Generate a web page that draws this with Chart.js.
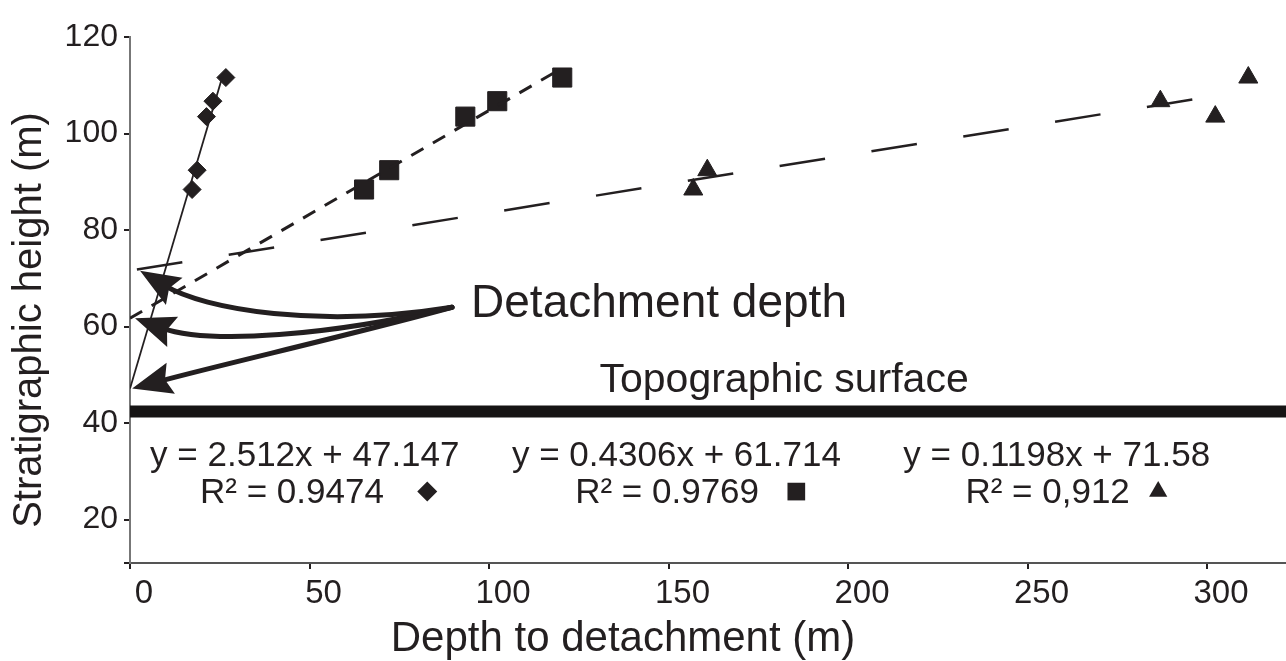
<!DOCTYPE html>
<html>
<head>
<meta charset="utf-8">
<title>Detachment depth</title>
<script src="https://cdn.jsdelivr.net/npm/chart.js@4.4.0/dist/chart.umd.min.js"></script>
<style>
  body { margin: 0; background: #fff; }
  canvas { display: block; }
</style>
</head>
<body>
<canvas id="chart" width="1286" height="661"></canvas>
<script>
// ---- data ----
const xTicks = [0, 50, 100, 150, 200, 250, 300];
const yTicks = [20, 40, 60, 80, 100, 120];
const heights = [88.4, 92.4, 103.5, 106.7, 111.6];          // same beds for all three series
const depthDiamond = [17.3, 18.7, 21.3, 23.1, 26.7];
const depthSquare = [65.2, 72.2, 93.4, 102.3, 120.4];
const depthTriangle = [156.9, 160.8, 302.3, 287.0, 311.5];
const slopes = [2.512, 0.4306, 0.1198];
const intercepts = [47.147, 61.714, 71.58];
const fitEnd = [26, 118, 302];                                // where each trend line stops
const eqLabels = ['y = 2.512x + 47.147', 'y = 0.4306x + 61.714', 'y = 0.1198x + 71.58'];
const r2Labels = ['R\u00B2 = 0.9474', 'R\u00B2 = 0.9769', 'R\u00B2 = 0,912'];
const topoSurface = 42.4;

const ink = '#231f20';
const family = '"Liberation Sans", Arial, sans-serif';
const markers = ['rectRot', 'rect', 'triangle'];

// placement of the annotations, in axis units
// arrows are in the same order as the intercepts (diamond, square, triangle fit)
const notePos = {
  eqX: [5.6, 106.4, 215.4], eqY: 31.2,
  r2X: [19.5, 124.0, 232.7], r2Y: 23.5,
  markX: [82.8, 185.6, 286.4], markY: 25.8,
  topo: [182.2, 46.35],
  detach: [95.0, 61.9],
  tail: [89.7, 64.0],
  arrows: [
    {c1: [61.3, 58.2], c2: [27.9, 52.6], tipX: 0.6},
    {c1: [55.7, 58.2], c2: [22.3, 56.1], tipX: 1.4},
    {c1: [52.9, 59.6], c2: [20.9, 63.4], tipX: 2.8}
  ]
};

function pts(xs, ys) {
  return xs.map((v, i) => ({x: v, y: ys[i]}));
}
function fitLine(i) {
  return [{x: 0, y: intercepts[i]}, {x: fitEnd[i], y: slopes[i] * fitEnd[i] + intercepts[i]}];
}

const notes = {
  id: 'notes',
  afterDatasetsDraw(chart) {
    const {ctx, scales: {x, y}} = chart;
    const P = (a, b) => [x.getPixelForValue(a), y.getPixelForValue(b)];
    ctx.save();
    ctx.fillStyle = ink;
    ctx.strokeStyle = ink;

    // curved arrows to the three intercepts
    const t = P(notePos.tail[0], notePos.tail[1]);
    notePos.arrows.forEach((a, i) => {
      const c1 = P(a.c1[0], a.c1[1]);
      const c2 = P(a.c2[0], a.c2[1]);
      const tip = P(a.tipX, intercepts[i]);
      const ang = Math.atan2(tip[1] - c2[1], tip[0] - c2[0]);
      const headLen = 40, headW = 16;
      const ux = Math.cos(ang), uy = Math.sin(ang);
      const end = [tip[0] - ux * headLen * 0.7, tip[1] - uy * headLen * 0.7];
      ctx.lineWidth = 5;
      ctx.lineCap = 'round';
      ctx.beginPath();
      ctx.moveTo(t[0], t[1]);
      ctx.bezierCurveTo(c1[0], c1[1], c2[0], c2[1], end[0], end[1]);
      ctx.stroke();
      const bx = tip[0] - ux * headLen, by = tip[1] - uy * headLen;
      ctx.beginPath();
      ctx.moveTo(tip[0], tip[1]);
      ctx.lineTo(bx - uy * headW, by + ux * headW);
      ctx.lineTo(tip[0] - ux * headLen * 0.85, tip[1] - uy * headLen * 0.85);
      ctx.lineTo(bx + uy * headW, by - ux * headW);
      ctx.closePath();
      ctx.fill();
    });

    ctx.textBaseline = 'alphabetic';
    ctx.textAlign = 'left';
    ctx.font = '46px ' + family;
    let p = P(notePos.detach[0], notePos.detach[1]);
    ctx.fillText('Detachment depth', p[0], p[1]);

    ctx.textAlign = 'center';
    ctx.font = '41px ' + family;
    p = P(notePos.topo[0], notePos.topo[1]);
    ctx.fillText('Topographic surface', p[0], p[1]);

    ctx.textAlign = 'left';
    ctx.font = '35px ' + family;
    eqLabels.forEach((s, i) => {
      let q = P(notePos.eqX[i], notePos.eqY);
      ctx.fillText(s, q[0], q[1]);
      q = P(notePos.r2X[i], notePos.r2Y);
      ctx.fillText(r2Labels[i], q[0], q[1]);
      q = P(notePos.markX[i], notePos.markY);
      Chart.helpers.drawPoint(ctx, {pointStyle: markers[i], radius: [10, 12.5, 10.5][i], rotation: 0, borderWidth: 0}, q[0], q[1]);
    });
    ctx.restore();
  },
  afterDraw(chart) {
    const {ctx, chartArea} = chart;
    ctx.save();
    ctx.fillStyle = ink;
    ctx.textAlign = 'center';
    ctx.textBaseline = 'alphabetic';
    ctx.font = '42px ' + family;
    ctx.fillText('Depth to detachment (m)', 623, 651);
    ctx.translate(41, (chartArea.top + chartArea.bottom) / 2 + 20);
    ctx.rotate(-Math.PI / 2);
    ctx.font = '40px ' + family;
    ctx.fillText('Stratigraphic height (m)', 0, 0);
    ctx.restore();
  }
};

const trendStyle = [
  {borderWidth: 1.8, borderDash: []},
  {borderWidth: 3, borderDash: [14, 11]},
  {borderWidth: 2.5, borderDash: [46, 47], borderDashOffset: 86}
];

const datasets = [
  {
    label: 'Topographic surface',
    data: [{x: 0, y: topoSurface}, {x: 330, y: topoSurface}],
    showLine: true, borderColor: '#161414', borderWidth: 12, pointRadius: 0, borderCapStyle: 'butt'
  }
];
[0, 1, 2].forEach(i => {
  datasets.push(Object.assign({
    label: 'fit ' + i, data: fitLine(i), showLine: true,
    borderColor: ink, pointRadius: 0
  }, trendStyle[i]));
});
[[depthDiamond, 9], [depthSquare, 13.5], [depthTriangle, 11]].forEach(([xs, r], i) => {
  datasets.push({
    label: 'series ' + i, data: pts(xs, heights), showLine: false,
    pointStyle: markers[i], pointRadius: r, pointBackgroundColor: ink,
    pointBorderColor: ink, pointBorderWidth: 1
  });
});

function noPad(s) {
  s.paddingLeft = 0; s.paddingRight = 0; s.paddingTop = 0; s.paddingBottom = 0;
}

new Chart(document.getElementById('chart'), {
  type: 'scatter',
  data: {datasets},
  options: {
    responsive: false,
    animation: false,
    layout: {autoPadding: false, padding: {top: 37, right: 0, left: 0, bottom: 0}},
    plugins: {legend: {display: false}, tooltip: {enabled: false}},
    scales: {
      x: {
        type: 'linear', min: 0, max: 322,
        afterBuildTicks: s => { s.ticks = xTicks.map(v => ({value: v})); },
        afterFit: s => { s.height = 98; noPad(s); },
        grid: {drawOnChartArea: false, drawTicks: true, tickLength: 6, color: ink, lineWidth: 2},
        border: {color: '#555', width: 2},
        ticks: {color: ink, font: {family, size: 33}, padding: 5, labelOffset: 14, maxRotation: 0, autoSkip: false}
      },
      y: {
        type: 'linear', min: 11, max: 120,
        afterBuildTicks: s => { s.ticks = [11].concat(yTicks).map(v => ({value: v})); },
        afterFit: s => { s.width = 130; noPad(s); },
        grid: {drawOnChartArea: false, drawTicks: true, tickLength: 6, color: ink, lineWidth: 2},
        border: {color: '#777', width: 2},
        ticks: {color: ink, font: {family, size: 32}, padding: 6, callback: v => yTicks.includes(v) ? v : ''}
      }
    }
  },
  plugins: [notes]
});
</script>
</body>
</html>
